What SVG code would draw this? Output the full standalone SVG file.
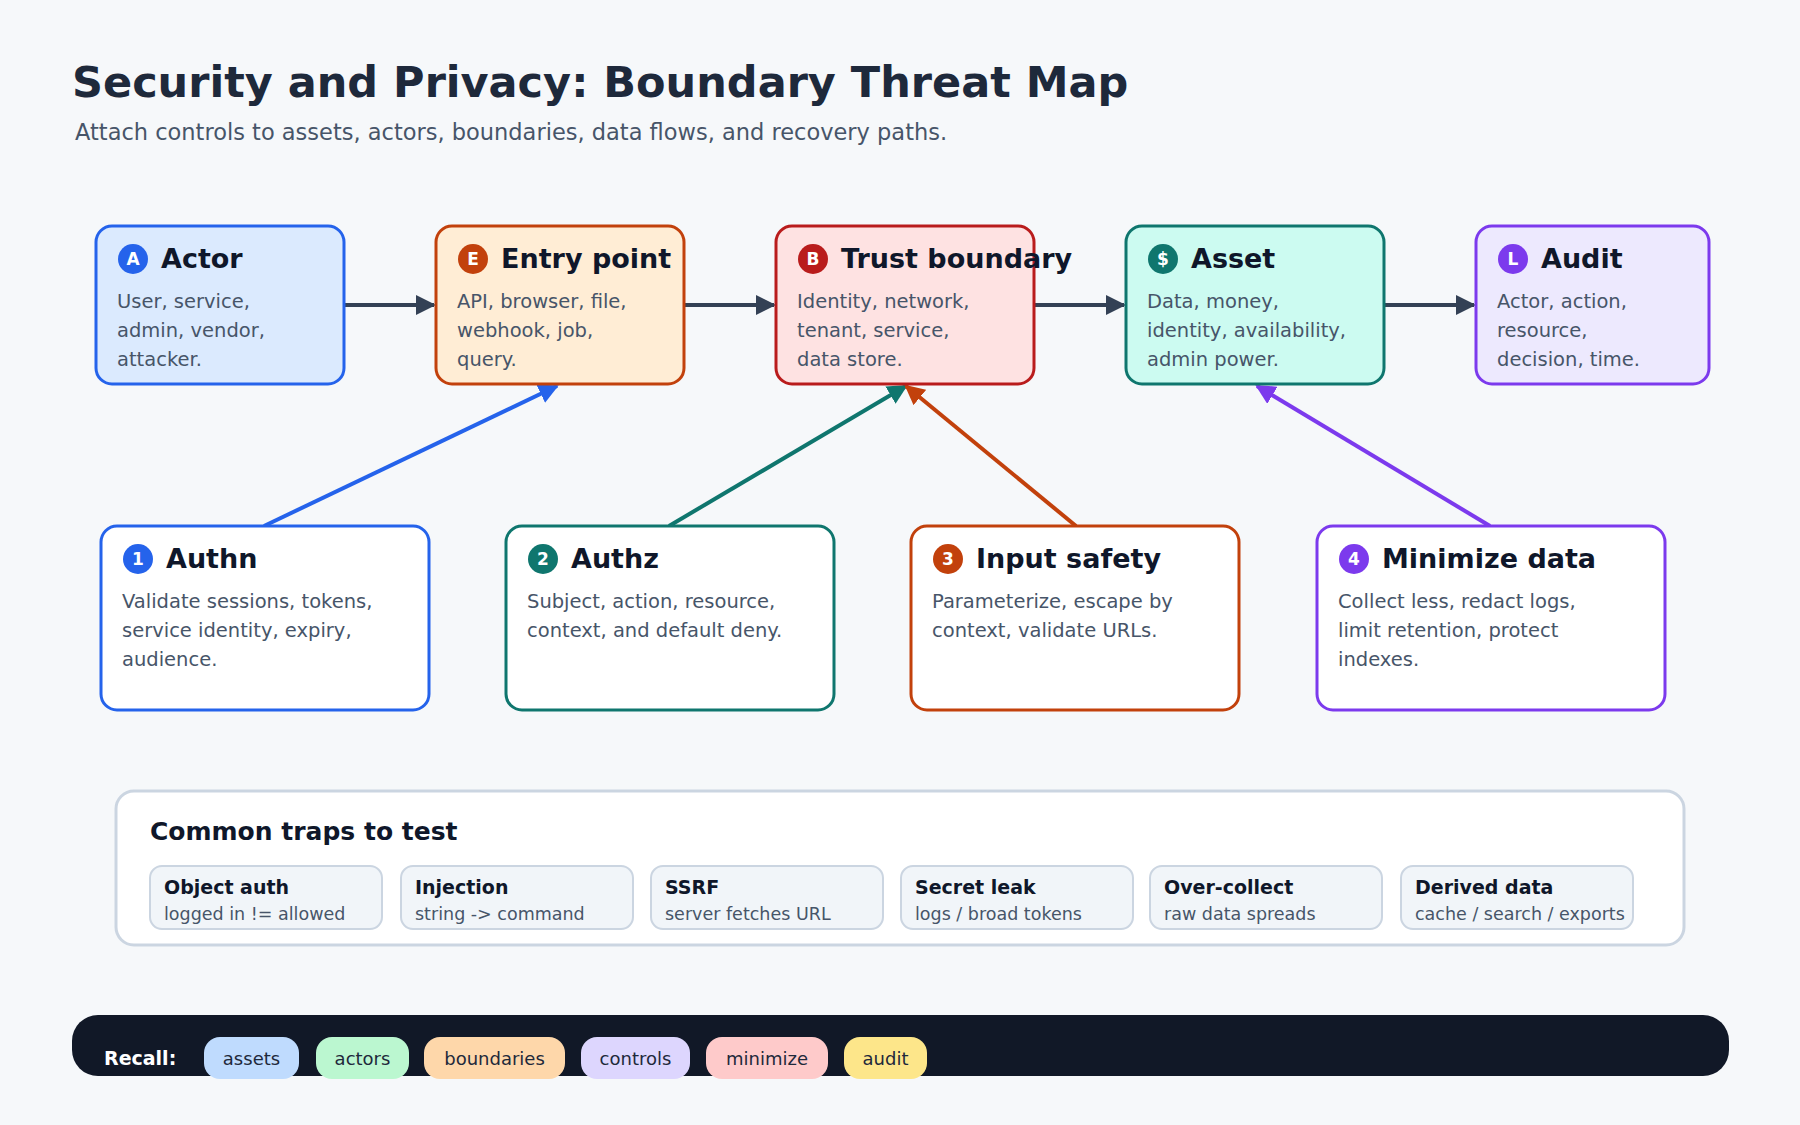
<svg xmlns="http://www.w3.org/2000/svg" width="1800" height="1125" viewBox="0 0 1800 1125">
<style>
text{font-family:"DejaVu Sans","Liberation Sans",sans-serif}
.t{font-weight:bold;font-size:27px;fill:#0f172a}
.b{font-size:19.5px;fill:#475569}
.c{font-weight:bold;font-size:17px;fill:#fff;text-anchor:middle}
.chip{fill:#f1f5f9;stroke:#cbd5e1;stroke-width:2}
.ct{font-weight:bold;font-size:19px;fill:#0f172a}
.cs{font-size:17.5px;fill:#475569}
.p{font-size:18px;fill:#1e293b;text-anchor:middle}
</style>
<defs>
<marker id="ad" viewBox="0 0 10 10" refX="9" refY="5" markerWidth="5" markerHeight="5" orient="auto"><path d="M0,0L10,5L0,10z" fill="#334155"/></marker>
<marker id="ab" viewBox="0 0 10 10" refX="9" refY="5" markerWidth="5" markerHeight="5" orient="auto"><path d="M0,0L10,5L0,10z" fill="#2563eb"/></marker>
<marker id="at" viewBox="0 0 10 10" refX="9" refY="5" markerWidth="5" markerHeight="5" orient="auto"><path d="M0,0L10,5L0,10z" fill="#0f766e"/></marker>
<marker id="ao" viewBox="0 0 10 10" refX="9" refY="5" markerWidth="5" markerHeight="5" orient="auto"><path d="M0,0L10,5L0,10z" fill="#c2410c"/></marker>
<marker id="ap" viewBox="0 0 10 10" refX="9" refY="5" markerWidth="5" markerHeight="5" orient="auto"><path d="M0,0L10,5L0,10z" fill="#7c3aed"/></marker>
</defs>
<rect width="1800" height="1125" fill="#f6f8fa"/>
<text x="72" y="97" font-weight="bold" font-size="43" fill="#1e293b">Security and Privacy: Boundary Threat Map</text>
<text x="75" y="140" font-size="22.5" fill="#475569">Attach controls to assets, actors, boundaries, data flows, and recovery paths.</text>

<g id="connectors" stroke-width="4" fill="none">
<line x1="344" y1="305" x2="434" y2="305" stroke="#334155" marker-end="url(#ad)"/>
<line x1="684" y1="305" x2="774" y2="305" stroke="#334155" marker-end="url(#ad)"/>
<line x1="1034" y1="305" x2="1124" y2="305" stroke="#334155" marker-end="url(#ad)"/>
<line x1="1384" y1="305" x2="1474" y2="305" stroke="#334155" marker-end="url(#ad)"/>
<line x1="264" y1="526" x2="557" y2="386" stroke="#2563eb" marker-end="url(#ab)"/>
<line x1="669" y1="526" x2="906" y2="386" stroke="#0f766e" marker-end="url(#at)"/>
<line x1="1076" y1="526" x2="906" y2="386" stroke="#c2410c" marker-end="url(#ao)"/>
<line x1="1490" y1="526" x2="1257" y2="386" stroke="#7c3aed" marker-end="url(#ap)"/>
</g>

<g id="actor"><rect x="96" y="226" width="248" height="158" rx="16" fill="#dbeafe" stroke="#2563eb" stroke-width="3"/>
<circle cx="133" cy="259" r="15" fill="#2563eb"/><text class="c" x="133" y="265">A</text>
<text class="t" x="161" y="268">Actor</text>
<text class="b" x="117" y="308">User, service,</text><text class="b" x="117" y="337">admin, vendor,</text><text class="b" x="117" y="366">attacker.</text></g>
<g id="entry"><rect x="436" y="226" width="248" height="158" rx="16" fill="#ffedd5" stroke="#c2410c" stroke-width="3"/>
<circle cx="473" cy="259" r="15" fill="#c2410c"/><text class="c" x="473" y="265">E</text>
<text class="t" x="501" y="268">Entry point</text>
<text class="b" x="457" y="308">API, browser, file,</text><text class="b" x="457" y="337">webhook, job,</text><text class="b" x="457" y="366">query.</text></g>
<g id="trust"><rect x="776" y="226" width="258" height="158" rx="16" fill="#fee2e2" stroke="#b91c1c" stroke-width="3"/>
<circle cx="813" cy="259" r="15" fill="#b91c1c"/><text class="c" x="813" y="265">B</text>
<text class="t" x="841" y="268">Trust boundary</text>
<text class="b" x="797" y="308">Identity, network,</text><text class="b" x="797" y="337">tenant, service,</text><text class="b" x="797" y="366">data store.</text></g>
<g id="asset"><rect x="1126" y="226" width="258" height="158" rx="16" fill="#ccfbf1" stroke="#0f766e" stroke-width="3"/>
<circle cx="1163" cy="259" r="15" fill="#0f766e"/><text class="c" x="1163" y="265">$</text>
<text class="t" x="1191" y="268">Asset</text>
<text class="b" x="1147" y="308">Data, money,</text><text class="b" x="1147" y="337">identity, availability,</text><text class="b" x="1147" y="366">admin power.</text></g>
<g id="audit"><rect x="1476" y="226" width="233" height="158" rx="16" fill="#ede9fe" stroke="#7c3aed" stroke-width="3"/>
<circle cx="1513" cy="259" r="15" fill="#7c3aed"/><text class="c" x="1513" y="265">L</text>
<text class="t" x="1541" y="268">Audit</text>
<text class="b" x="1497" y="308">Actor, action,</text><text class="b" x="1497" y="337">resource,</text><text class="b" x="1497" y="366">decision, time.</text></g>

<g id="authn"><rect x="101" y="526" width="328" height="184" rx="16" fill="#fff" stroke="#2563eb" stroke-width="3"/>
<circle cx="138" cy="559" r="15" fill="#2563eb"/><text class="c" x="138" y="565">1</text>
<text class="t" x="166" y="568">Authn</text>
<text class="b" x="122" y="608">Validate sessions, tokens,</text><text class="b" x="122" y="637">service identity, expiry,</text><text class="b" x="122" y="666">audience.</text></g>
<g id="authz"><rect x="506" y="526" width="328" height="184" rx="16" fill="#fff" stroke="#0f766e" stroke-width="3"/>
<circle cx="543" cy="559" r="15" fill="#0f766e"/><text class="c" x="543" y="565">2</text>
<text class="t" x="571" y="568">Authz</text>
<text class="b" x="527" y="608">Subject, action, resource,</text><text class="b" x="527" y="637">context, and default deny.</text></g>
<g id="input"><rect x="911" y="526" width="328" height="184" rx="16" fill="#fff" stroke="#c2410c" stroke-width="3"/>
<circle cx="948" cy="559" r="15" fill="#c2410c"/><text class="c" x="948" y="565">3</text>
<text class="t" x="976" y="568">Input safety</text>
<text class="b" x="932" y="608">Parameterize, escape by</text><text class="b" x="932" y="637">context, validate URLs.</text></g>
<g id="minimize"><rect x="1317" y="526" width="348" height="184" rx="16" fill="#fff" stroke="#7c3aed" stroke-width="3"/>
<circle cx="1354" cy="559" r="15" fill="#7c3aed"/><text class="c" x="1354" y="565">4</text>
<text class="t" x="1382" y="568">Minimize data</text>
<text class="b" x="1338" y="608">Collect less, redact logs,</text><text class="b" x="1338" y="637">limit retention, protect</text><text class="b" x="1338" y="666">indexes.</text></g>

<g id="traps"><rect x="116" y="791" width="1568" height="154" rx="18" fill="#fff" stroke="#cbd5e1" stroke-width="3"/>
<text x="150" y="840" font-weight="bold" font-size="25" fill="#0f172a">Common traps to test</text>
<rect class="chip" x="150" y="866" width="232" height="63" rx="12"/><text class="ct" x="164" y="894">Object auth</text><text class="cs" x="164" y="920">logged in != allowed</text>
<rect class="chip" x="401" y="866" width="232" height="63" rx="12"/><text class="ct" x="415" y="894">Injection</text><text class="cs" x="415" y="920">string -&gt; command</text>
<rect class="chip" x="651" y="866" width="232" height="63" rx="12"/><text class="ct" x="665" y="894">SSRF</text><text class="cs" x="665" y="920">server fetches URL</text>
<rect class="chip" x="901" y="866" width="232" height="63" rx="12"/><text class="ct" x="915" y="894">Secret leak</text><text class="cs" x="915" y="920">logs / broad tokens</text>
<rect class="chip" x="1150" y="866" width="232" height="63" rx="12"/><text class="ct" x="1164" y="894">Over-collect</text><text class="cs" x="1164" y="920">raw data spreads</text>
<rect class="chip" x="1401" y="866" width="232" height="63" rx="12"/><text class="ct" x="1415" y="894">Derived data</text><text class="cs" x="1415" y="920">cache / search / exports</text></g>

<g id="recall"><rect x="72" y="1015" width="1657" height="61" rx="26" fill="#111827"/>
<text x="104" y="1065" font-weight="bold" font-size="19" fill="#fff">Recall:</text>
<rect x="204" y="1037" width="95" height="42" rx="16" fill="#bfdbfe"/><text class="p" x="251.5" y="1065">assets</text>
<rect x="316" y="1037" width="93" height="42" rx="16" fill="#bbf7d0"/><text class="p" x="362.5" y="1065">actors</text>
<rect x="424" y="1037" width="141" height="42" rx="16" fill="#fed7aa"/><text class="p" x="494.5" y="1065">boundaries</text>
<rect x="581" y="1037" width="109" height="42" rx="16" fill="#ddd6fe"/><text class="p" x="635.5" y="1065">controls</text>
<rect x="706" y="1037" width="122" height="42" rx="16" fill="#fecaca"/><text class="p" x="767" y="1065">minimize</text>
<rect x="844" y="1037" width="83" height="42" rx="16" fill="#fde68a"/><text class="p" x="885.5" y="1065">audit</text></g>
</svg>
